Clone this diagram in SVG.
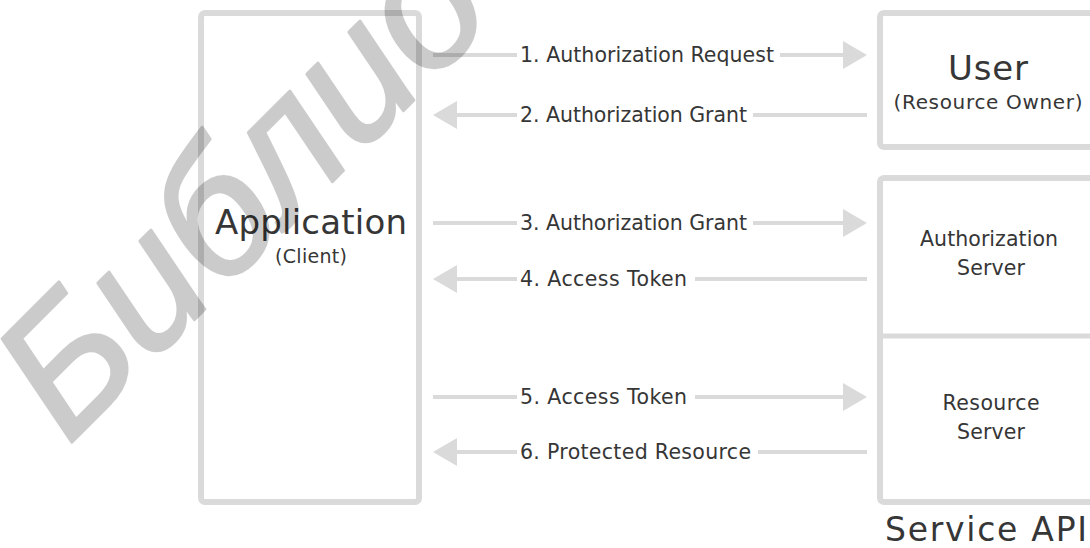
<svg xmlns="http://www.w3.org/2000/svg" width="1090" height="548" viewBox="0 0 1090 548">
<defs>
<style>
.box{fill:#fff;stroke:#dadada;stroke-width:6}
.div{stroke:#dadada;stroke-width:5}
.conn{fill:none;stroke:#dadada;stroke-width:4;marker-end:url(#ah)}
.t{font-family:"DejaVu Sans","Liberation Sans",sans-serif;fill:#363636}
.lbl{font-size:20.5px}
.mid{text-anchor:middle}
.wm{font-family:"Liberation Sans",Arial,sans-serif;font-style:italic;font-size:178px;fill:#000;stroke:#000;stroke-width:3;stroke-linejoin:round}
</style>
<marker id="ah" viewBox="0 0 24 28" refX="0" refY="14" markerWidth="24" markerHeight="28" markerUnits="userSpaceOnUse" orient="auto"><path d="M0 0L24 14L0 28Z" fill="#dadada"/></marker>
</defs>
<rect width="1090" height="548" fill="#fff"/>
<g id="application">
<rect class="box" x="201" y="13" width="218" height="489" rx="4"/>
<text class="t mid" x="311" y="234" font-size="34" textLength="192">Application</text>
<text class="t mid" x="311" y="263" font-size="19" textLength="72">(Client)</text>
</g>
<g id="user">
<rect class="box" x="880" y="13" width="218" height="134" rx="4"/>
<text class="t mid" x="988" y="80" font-size="34" textLength="80">User</text>
<text class="t mid" x="988" y="109" font-size="20" textLength="189">(Resource Owner)</text>
</g>
<g id="service-api">
<rect class="box" x="880" y="178" width="218" height="324" rx="4"/>
<line class="div" x1="880" y1="336" x2="1098" y2="336"/>
<text class="t" x="885" y="541" font-size="33" textLength="202">Service API</text>
</g>
<g id="authorization-server">
<text class="t mid" x="989" y="246" font-size="20.5" textLength="138">Authorization</text>
<text class="t mid" x="991" y="275" font-size="20.5" textLength="68">Server</text>
</g>
<g id="resource-server">
<text class="t mid" x="991" y="410" font-size="20.5" textLength="97">Resource</text>
<text class="t mid" x="991" y="439" font-size="20.5" textLength="68">Server</text>
</g>
<g id="connectors">
<path class="conn" d="M433 55H517M780 55H843"/>
<path class="conn" d="M867 115H753M517 115H457"/>
<path class="conn" d="M433 223H517M753 223H843"/>
<path class="conn" d="M867 279H695M517 279H457"/>
<path class="conn" d="M433 397H517M695 397H843"/>
<path class="conn" d="M867 452H758M517 452H457"/>
<text class="t lbl" x="520" y="62" textLength="254">1. Authorization Request</text>
<text class="t lbl" x="520" y="122" textLength="227">2. Authorization Grant</text>
<text class="t lbl" x="520" y="230" textLength="227">3. Authorization Grant</text>
<text class="t lbl" x="520" y="286" textLength="167">4. Access Token</text>
<text class="t lbl" x="520" y="404" textLength="167">5. Access Token</text>
<text class="t lbl" x="520" y="459" textLength="231">6. Protected Resource</text>
</g>
<g id="watermark" opacity="0.2">
<text class="wm" transform="translate(68,446) rotate(-45)">Библио</text>
</g>
</svg>
